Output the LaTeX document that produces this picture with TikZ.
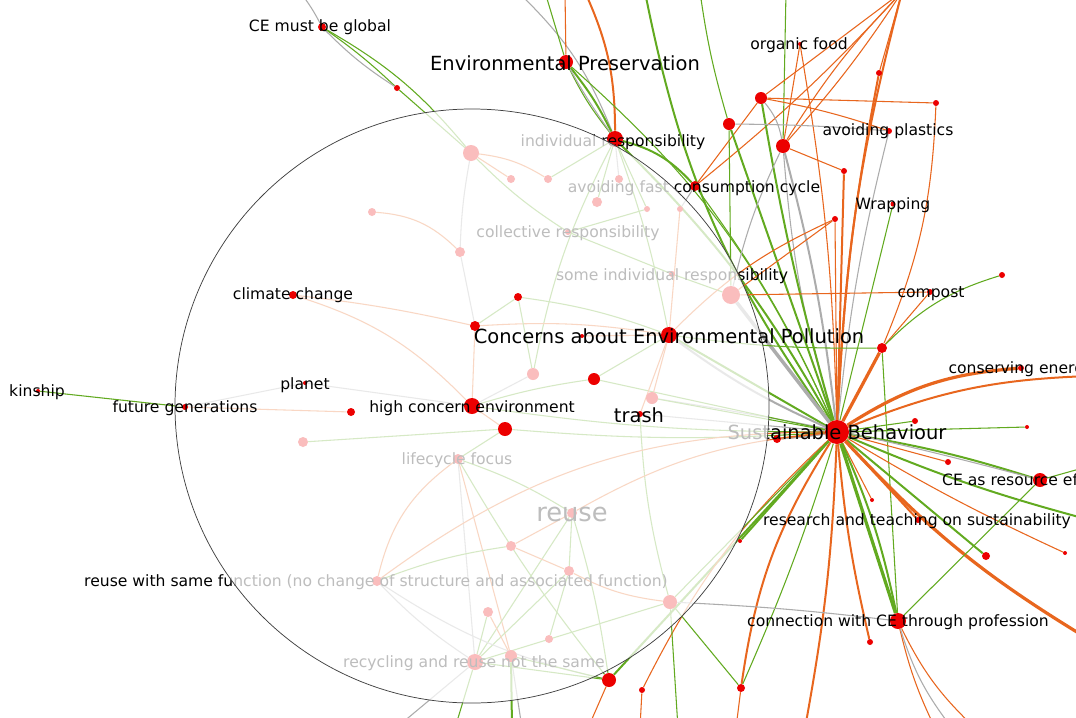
\documentclass[tikz,border=0pt]{standalone}
\usepackage{fontspec}
\setmainfont{DejaVu Sans}
\definecolor{eg}{RGB}{98,170,32}
\definecolor{eo}{RGB}{232,102,30}
\definecolor{ey}{RGB}{172,172,172}
\definecolor{nred}{RGB}{236,0,0}
\pgfdeclarelayer{edges}
\pgfdeclarelayer{lens}
\pgfdeclarelayer{front}
\pgfsetlayers{edges,main,lens,front}
\begin{document}
\begin{tikzpicture}[x=0.75pt,y=-0.75pt,
  v/.style={circle,fill=nred,draw=none,inner sep=0pt,minimum size=#1*1.5pt},
  g1/.style={draw=eg,line width=0.8pt},
  g2/.style={draw=eg,line width=1.5pt},
  g3/.style={draw=eg,line width=2.4pt},
  o1/.style={draw=eo,line width=0.8pt},
  o2/.style={draw=eo,line width=1.5pt},
  o3/.style={draw=eo,line width=2.4pt},
  y1/.style={draw=ey,line width=0.8pt},
  y2/.style={draw=ey,line width=1.5pt},
  y3/.style={draw=ey,line width=2.6pt},
  lab/.style={anchor=base,inner sep=0pt,text=black,font=\fontsize{11.7}{14}\selectfont},
  big/.style={lab,font=\fontsize{14.6}{17}\selectfont},
  huge/.style={lab,font=\fontsize{19.3}{23}\selectfont},
]
\useasboundingbox (0,0) rectangle (1076,718);
\clip (0,0) rectangle (1076,718);
\begin{pgfonlayer}{edges}
\fill[white] (0,0) rectangle (1076,718);
\end{pgfonlayer}

% ---------- loose ends beyond the frame ----------
\coordinate (t1) at (518,-8);  \coordinate (t2) at (545,-8);
\coordinate (t3) at (565,-8);  \coordinate (t4) at (585,-8);
\coordinate (t5) at (645,-8);  \coordinate (t6) at (786,-8);
\coordinate (t7) at (902,-8);  \coordinate (t8) at (700,-8);
\coordinate (t9) at (1090,376); \coordinate (t10) at (1090,520);
\coordinate (t11) at (1090,640); \coordinate (t12) at (805,728);
\coordinate (t13) at (736,728); \coordinate (t14) at (935,728);
\coordinate (t15) at (975,728); \coordinate (t16) at (952,728);
\coordinate (t17) at (678,728); \coordinate (t18) at (588,728);
\coordinate (t19) at (640,728); \coordinate (t20) at (1090,466);
\coordinate (t21) at (522,728); \coordinate (t22) at (455,728);
\coordinate (t23) at (396,728); \coordinate (t24) at (300,-8);
\coordinate (t25) at (512,728);

% ---------- context nodes ----------
\node[v=4] (ceg) at (322,27) {};
\node[v=3] (n1) at (397,88) {};
\node[v=7] (ep) at (566,62) {};
\node[v=8] (ir) at (615,139) {};
\node[v=2] (of) at (800,44) {};
\node[v=6] (n2) at (761,98) {};
\node[v=6] (n3) at (729,124) {};
\node[v=7] (n4) at (783,146) {};
\node[v=3] (n5) at (879,73) {};
\node[v=3] (n6) at (936,103) {};
\node[v=3] (ap) at (889,131) {};
\node[v=3] (n7) at (844,171) {};
\node[v=2.5] (wr) at (893,204) {};
\node[v=3] (n8) at (835,219) {};
\node[v=5] (cc) at (695,186) {};
\node[v=3] (sir) at (672,274) {};
\node[v=9] (n9) at (731,295) {};
\node[v=3] (cp) at (930,292) {};
\node[v=3] (n10) at (1002,275) {};
\node[v=5] (n11) at (882,348) {};
\node[v=3] (ce) at (1021,368) {};
\node[v=3] (n12) at (915,421) {};
\node[v=2] (n13) at (1027,427) {};
\node[v=12] (H) at (837,432) {};
\node[v=4] (n14) at (777,439) {};
\node[v=3] (n15) at (948,462) {};
\node[v=7] (cer) at (1040,480) {};
\node[v=2] (n16) at (872,500) {};
\node[v=3] (rt) at (918,520) {};
\node[v=4] (n17) at (986,556) {};
\node[v=2] (n18) at (1065,553) {};
\node[v=2] (n19) at (740,541) {};
\node[v=8] (con) at (898,621) {};
\node[v=3] (n20) at (870,642) {};
\node[v=4] (n21) at (741,688) {};
\node[v=7] (n22) at (609,680) {};
\node[v=3] (n23) at (642,690) {};
\node[v=2] (kin) at (38,391) {};
% nodes that sit under the lens
\node[v=8] (p1) at (471,153) {};
\node[v=4] (p2) at (372,212) {};
\node[v=5] (p3) at (460,252) {};
\node[v=4] (p4) at (511,179) {};
\node[v=4] (p5) at (548,179) {};
\node[v=5] (p6) at (597,202) {};
\node[v=4] (p7) at (619,179) {};
\node[v=3] (p8) at (647,209) {};
\node[v=3] (p9) at (680,209) {};
\node[v=3] (cr) at (568,232) {};
\node[v=6] (p10) at (533,374) {};
\node[v=6] (p11) at (652,398) {};
\node[v=5] (p12) at (303,442) {};
\node[v=5] (lf) at (458,459) {};
\node[v=5] (re) at (572,513) {};
\node[v=5] (p13) at (511,546) {};
\node[v=5] (p14) at (569,571) {};
\node[v=5] (rsf) at (377,581) {};
\node[v=5] (p15) at (488,612) {};
\node[v=4] (p16) at (549,639) {};
\node[v=6] (p17) at (511,656) {};
\node[v=8] (rr) at (475,662) {};
\node[v=7] (p18) at (670,602) {};

% ---------- focus nodes ----------
\begin{pgfonlayer}{front}
\node[v=4] (clc) at (293,295) {};
\node[v=2] (pl) at (305,383) {};
\node[v=3] (fg) at (185,407) {};
\node[v=8] (hce) at (472,406) {};
\node[v=4] (n24) at (351,412) {};
\node[v=7] (n25) at (505,429) {};
\node[v=5] (n26) at (475,326) {};
\node[v=4] (n27) at (518,297) {};
\node[v=6] (n28) at (594,379) {};
\node[v=2] (n29) at (582,336) {};
\node[v=8] (cep) at (669,335) {};
\node[v=3] (tr) at (640,414) {};
\end{pgfonlayer}

% ---------- context labels ----------
\node[lab] (Lceg) at (320,31) {CE must be global};
\node[big] (Lep) at (565,70) {Environmental Preservation};
\node[lab] (Lir) at (613,146) {individual responsibility};
\node[lab] (Lof) at (799,49) {organic food};
\node[lab] (Lap) at (888,135) {avoiding plastics};
\node[lab] (Lcc) at (694,192) {avoiding fast consumption cycle};
\node[lab] (Lwr) at (893,209) {Wrapping};
\node[lab] (Lcr) at (568,237) {collective responsibility};
\node[lab] (Lsir) at (672,280) {some individual responsibility};
\node[lab] (Lcp) at (931,297) {compost};
\node[lab] (Lce) at (1021,373) {conserving energy};
\node[lab] (Lkin) at (37,396) {kinship};
\node[big] (LH) at (837,439) {Sustainable Behaviour};
\node[lab] (Llf) at (457,464) {lifecycle focus};
\node[lab] (Lcer) at (1040,485) {CE as resource efficiency};
\node[lab] (Lrt) at (917,525) {research and teaching on sustainability};
\node[huge] (Lre) at (572,521) {reuse};
\node[lab] (Lrsf) at (376,586) {reuse with same function (no change of structure and associated function)};
\node[lab] (Lcon) at (898,626) {connection with CE through profession};
\node[lab] (Lrr) at (474,667) {recycling and reuse not the same};

% ---------- focus labels ----------
\begin{pgfonlayer}{front}
\node[lab] (Lclc) at (293,299) {climate change};
\node[lab] (Lpl) at (305,389) {planet};
\node[lab] (Lfg) at (185,412) {future generations};
\node[lab] (Lhce) at (472,412) {high concern environment};
\node[big] (Lcep) at (669,343) {Concerns about Environmental Pollution};
\node[big] (Ltr) at (639,422) {trash};
\end{pgfonlayer}

% ---------- lens ----------
\begin{pgfonlayer}{lens}
\fill[white,opacity=0.74] (hce.center) circle[radius=222.75pt];
\draw[black!75,line width=0.55pt] (hce.center) circle[radius=222.75pt];
\end{pgfonlayer}

% ---------- connectors ----------
\begin{pgfonlayer}{edges}
% upper left
\draw[y1] (t24) to[bend left=5] (ceg);
\draw[g1] (ceg) to[bend left=4] (n1);
\draw[y1] (ceg) to[bend right=6] (n1);
\draw[g1] (ceg) to[bend left=10] (p1);
\draw[g1] (n1) -- (p1);
% environmental preservation / individual responsibility
\draw[y1] (t1) to[bend left=12] (ir);
\draw[g1] (t2) -- (ep);
\draw[o1] (t3) -- (ep);
\draw[o2] (t4) to[bend left=12] (ir);
\draw[g2] (ep) to[bend left=6] (ir);
\draw[g1] (ep) to[bend right=6] (ir);
\draw[y1] (ep) to[bend right=3] (ir);
\draw[g1] (ep) to[bend left=12] (H);
\draw[g2] (ir) to[bend left=16] (cc);
\draw[g2] (ir) to[bend left=8] (H);
\draw[g1] (ir) -- (p6);
\draw[y1] (ir) -- (p7);
\draw[g1] (ir) -- (p8);
\draw[g1] (ir) to[bend left=4] (cep);
\draw[g1] (ir) to[bend right=8] (p10);
\draw[g1] (ir) -- (p5);
% consumption cycle and the top right fan
\draw[g1] (cc) to[bend left=6] (H);
\draw[o1] (cc) -- (n2);
\draw[o1] (cc) to[bend right=4] (t7);
\draw[y1] (cc) -- (p9);
\draw[g2] (t5) to[bend right=12] (H);
\draw[g1] (t8) to[bend right=4] (n3);
\draw[g1] (t6) -- (n4);
\draw[y2] (n4) to[bend left=4] (H);
\draw[y1] (n4) to[bend right=6] (H);
\draw[o1] (n4) -- (n7);
\draw[o1] (n4) to[bend right=4] (t7);
\draw[o1] (n4) to[bend left=6] (t7);
\draw[o1] (of) -- (n4);
\draw[o1] (of) to[bend left=4] (H);
\draw[o1] (n2) -- (t7);
\draw[o1] (n2) -- (n6);
\draw[o1] (n2) to[bend left=4] (ap);
\draw[y1] (n2) to[bend left=14] (n4);
\draw[g2] (n2) to[bend right=3] (H);
\draw[y1] (n3) to[bend left=2] (ap);
\draw[g2] (n3) -- (H);
\draw[g1] (n3) -- (n9);
\draw[o1] (t7) -- (n5);
\draw[o2] (n5) to[bend right=4] (H);
\draw[o2] (t7) to[bend right=6] (H);
\draw[o1] (n6) to[bend left=10] (n11);
\draw[y1] (ap) to[bend right=4] (H);
\draw[g1] (wr) -- (H);
\draw[o2] (n7) -- (H);
\draw[o1] (n8) -- (H);
% some individual responsibility hub
\draw[o1] (n9) -- (n8);
\draw[o1] (n9) -- (cp);
\draw[y1] (n9) to[bend left=6] (n4);
\draw[y3] (n9) -- (H);
\draw[g1] (sir) -- (n9);
\draw[g1] (cr) -- (sir);
% compost area
\draw[o3] (n11) -- (H);
\draw[o1] (n11) -- (cp);
\draw[g1] (n10) to[bend right=14] (n11);
\draw[g1] (n11) -- (con);
\draw[g1] (cep) to[bend right=4] (n11);
% concerns and the hub
\draw[g2] (cep) -- (H);
\draw[y2] (cep) to[bend right=6] (H);
\draw[o1] (cep) to[bend left=10] (n8);
% right side of the hub
\draw[o3] (H) to[bend left=14] (ce);
\draw[o2] (H) to[bend left=10] (t9);
\draw[g1] (H) -- (n12);
\draw[g1] (H) -- (n13);
\draw[g2] (H) to[bend left=4] (cer);
\draw[o1] (H) -- (n15);
\draw[g2] (H) to[bend right=4] (t10);
\draw[o1] (H) -- (n16);
\draw[o2] (H) -- (rt);
\draw[g2] (H) -- (n17);
\draw[o3] (H) to[bend right=8] (t11);
\draw[o1] (H) to[bend right=3] (n18);
\draw[g1] (cer) -- (t20);
\draw[y1] (p11) to[bend left=3] (cer);
% lower side of the hub
\draw[g3] (H) -- (con);
\draw[g2] (H) to[bend left=6] (con);
\draw[o2] (H) to[bend right=4] (n20);
\draw[o2] (H) to[bend right=12] (n21);
\draw[g1] (H) to[bend left=3] (n21);
\draw[g2] (H) -- (n22);
\draw[g2] (H) -- (n19);
\draw[o1] (H) to[bend right=10] (n23);
\draw[o2] (H) to[bend left=4] (t12);
\draw[o2] (H) -- (n14);
\draw[y1] (H) to[bend left=3] (n14);
\draw[g1] (con) -- (cer);
\draw[o1] (con) to[bend right=6] (t14);
\draw[o1] (con) to[bend right=10] (t15);
\draw[y1] (con) to[bend right=10] (t16);
\draw[y1] (p18) to[bend left=2] (con);
\draw[g1] (p18) -- (n21);
\draw[o1] (n21) -- (t13);
\draw[g1] (p18) -- (t17);
\draw[o1] (n22) -- (t18);
\draw[g1] (n22) -- (rr);
\draw[o1] (n23) -- (t19);
% left side
\draw[g1] (kin) -- (fg);
\draw[o1] (fg) -- (n24);
\draw[y1] (fg) -- (pl);
\draw[y1] (pl) -- (hce);
\draw[o1] (clc) to[bend left=14] (hce);
\draw[o1] (clc) to[bend left=3] (n26);
\draw[o1] (n26) -- (hce);
\draw[o1] (n26) to[bend left=6] (cep);
\draw[g1] (n26) -- (n27);
\draw[y1] (p3) -- (n26);
\draw[o1] (p2) to[bend left=20] (p3);
\draw[y1] (p3) to[bend left=4] (p1);
\draw[o1] (p1) to[bend left=12] (p5);
\draw[o1] (p1) -- (p4);
\draw[g1] (p1) to[bend right=6] (cr);
\draw[g1] (p8) -- (cr);
\draw[o1] (p9) -- (cep);
\draw[o1] (hce) -- (n25);
\draw[g1] (hce) to[bend left=4] (n28);
\draw[g1] (hce) to[bend right=4] (H);
\draw[g1] (n25) to[bend right=4] (H);
\draw[g1] (n25) -- (p12);
\draw[g1] (n25) -- (lf);
\draw[g1] (n28) -- (cep);
\draw[g1] (n28) -- (H);
\draw[y1] (tr) -- (H);
\draw[o1] (tr) -- (cep);
\draw[g1] (tr) to[bend right=6] (p18);
\draw[g1] (p10) -- (n27);
\draw[y1] (p10) -- (hce);
\draw[g1] (p11) -- (H);
\draw[o1] (p11) -- (cep);
\draw[o1] (n29) -- (cep);
\draw[g1] (n27) to[bend left=6] (cep);
% reuse cluster
\draw[g1] (lf) to[bend left=6] (re);
\draw[o1] (lf) -- (p17);
\draw[y1] (lf) -- (rr);
\draw[o1] (lf) to[bend right=20] (rsf);
\draw[g1] (lf) to[bend right=4] (n22);
\draw[o1] (re) -- (p13);
\draw[g1] (re) -- (p14);
\draw[g1] (re) -- (rr);
\draw[g1] (re) to[bend left=4] (n22);
\draw[o1] (re) to[bend left=12] (H);
\draw[o1] (rsf) to[bend left=18] (H);
\draw[o1] (p13) -- (p14);
\draw[o1] (p14) to[bend right=10] (p18);
\draw[g1] (p14) -- (rr);
\draw[g1] (p14) -- (p16);
\draw[y1] (rsf) to[bend right=6] (rr);
\draw[y1] (rsf) to[bend right=10] (n22);
\draw[g1] (rsf) to[bend left=6] (p13);
\draw[o1] (p15) -- (p17);
\draw[g1] (p15) -- (rr);
\draw[g1] (p17) -- (n22);
\draw[y1] (p17) -- (t21);
\draw[g1] (rr) -- (t22);
\draw[y1] (rr) -- (t23);
\draw[g2] (p17) -- (t25);
\draw[g1] (p18) -- (H);
\draw[g1] (rr) -- (p18);
\end{pgfonlayer}
\end{tikzpicture}
\end{document}
